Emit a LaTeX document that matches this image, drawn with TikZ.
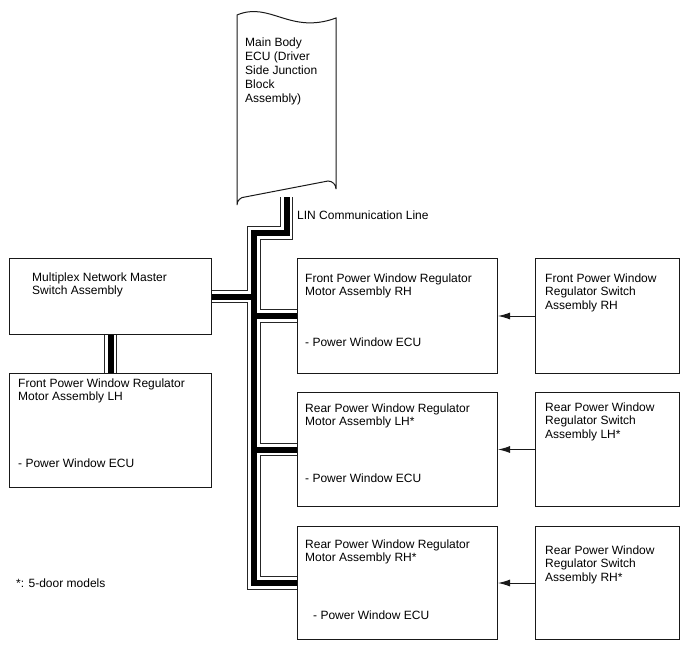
\documentclass[tikz,border=0pt]{standalone}
\usepackage{fontspec}
\setmainfont{Liberation Sans}
\usetikzlibrary{arrows.meta}
\begin{document}
\begin{tikzpicture}[x=1pt,y=-1pt,
  box/.style={draw=black!90,line width=1pt,fill=white,minimum width=#1,inner sep=0pt},
  lbl/.style={anchor=base west,align=left,inner sep=0pt,font=\fontsize{12}{13.8}\selectfont},
  busouter/.style={line width=13.5pt,black!85},
  buswhite/.style={line width=11.5pt,white},
  buscore/.style={line width=6pt,black},
  sig/.style={line width=1pt,black!90,-{Latex[length=12pt,width=7pt]}}]
\useasboundingbox (0,0) rectangle (688,658);
% box placeholders (positions)
\node[box=202pt,minimum height=76pt,anchor=north west,draw=none,fill=none] (msp) at (9,258) {};
\node[box=202pt,minimum height=114pt,anchor=north west,draw=none,fill=none] (flhp) at (9,373) {};
\node[box=200pt,minimum height=115pt,anchor=north west,draw=none,fill=none] (frhp) at (297,258) {};
\node[box=200pt,minimum height=114pt,anchor=north west,draw=none,fill=none] (rlhp) at (297,392) {};
\node[box=200pt,minimum height=113pt,anchor=north west,draw=none,fill=none] (rrhp) at (297,526) {};
\node[minimum width=99pt,minimum height=182pt,anchor=north west,inner sep=0pt] (ecu) at (237,15) {};
\coordinate (jogR) at (ecu.south |- 0,233);
\coordinate (jogL) at (254,233);
\coordinate (trunkB) at (jogL |- rrhp.west);
\def\bus{(ecu.south) -- (jogR) -- (jogL) -- (trunkB) -- (rrhp.west)
  (jogL |- msp.east) -- (msp.east)
  (jogL |- frhp.west) -- (frhp.west)
  (jogL |- rlhp.west) -- (rlhp.west)
  (msp.south) -- (flhp.north)}
\draw[busouter] \bus;
\draw[buswhite] \bus;
\draw[buscore] \bus;
% ECU outline
\draw[draw=black!90,line width=1pt,fill=white]
  (237,15) .. controls (270,1) and (290,35) .. (336,18)
  -- (336,189) arc[start angle=0,end angle=90,radius=8pt]
  -- (245,197) arc[start angle=90,end angle=180,radius=8pt] -- cycle;
% boxes
\node[box=202pt,minimum height=76pt,anchor=north west] (ms) at (9,258) {};
\node[box=202pt,minimum height=114pt,anchor=north west] (flh) at (9,373) {};
\node[box=200pt,minimum height=115pt,anchor=north west] (frh) at (297,258) {};
\node[box=200pt,minimum height=114pt,anchor=north west] (rlh) at (297,392) {};
\node[box=200pt,minimum height=113pt,anchor=north west] (rrh) at (297,526) {};
\node[box=144pt,minimum height=115pt,anchor=north west] (sfr) at (535,258) {};
\node[box=144pt,minimum height=114pt,anchor=north west] (srl) at (535,392) {};
\node[box=144pt,minimum height=113pt,anchor=north west] (srr) at (535,526) {};
% signal arrows
\draw[sig] (sfr.west) -- (frh.east);
\draw[sig] (srl.west) -- (rlh.east);
\draw[sig] (srr.west) -- (rrh.east);
% texts (anchor = baseline of last line)
\node[lbl] (tecu) at (245,102.2) {Main Body\\ECU (Driver\\Side Junction\\Block\\Assembly)};
\node[lbl] (tlin) at (297,219) {LIN Communication Line};
\node[lbl] (tms) at (32,294.8) {Multiplex Network Master\\Switch Assembly};
\node[lbl] (tflh) at (18,400.8) {Front Power Window Regulator\\Motor Assembly LH};
\node[lbl] (tflh2) at (18,467) {- Power Window ECU};
\node[lbl] (tfrh) at (305,295.8) {Front Power Window Regulator\\Motor Assembly RH};
\node[lbl] (tfrh2) at (305,346) {- Power Window ECU};
\node[lbl] (trlh) at (305,425.8) {Rear Power Window Regulator\\Motor Assembly LH*};
\node[lbl] (trlh2) at (305,482) {- Power Window ECU};
\node[lbl] (trrh) at (305,561.8) {Rear Power Window Regulator\\Motor Assembly RH*};
\node[lbl] (trrh2) at (313,619) {- Power Window ECU};
\node[lbl] (tsfr) at (545,309.6) {Front Power Window\\Regulator Switch\\Assembly RH};
\node[lbl] (tsrl) at (545,438.6) {Rear Power Window\\Regulator Switch\\Assembly LH*};
\node[lbl] (tsrr) at (545,581.6) {Rear Power Window\\Regulator Switch\\Assembly RH*};
\node[lbl] (tnote) at (16,587) {*: 5-door models};
\end{tikzpicture}
\end{document}
